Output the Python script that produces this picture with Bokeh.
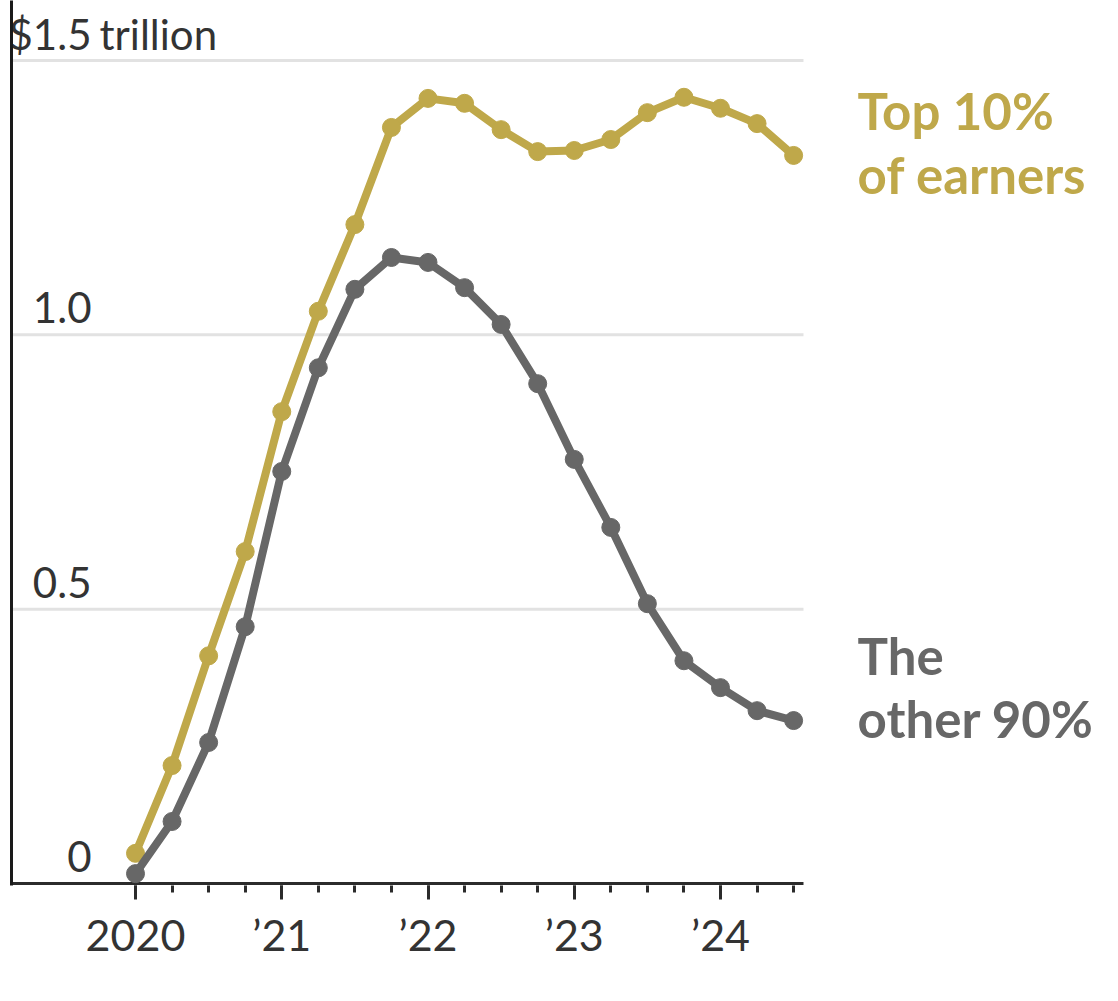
from bokeh.plotting import figure
from bokeh.models import FixedTicker, Range1d, Label, ColumnDataSource
from bokeh.core.properties import value
from bokeh.embed import file_html
from bokeh.resources import INLINE

# ---- data ----
quarters = [2020.0, 2020.25, 2020.5, 2020.75, 2021.0, 2021.25, 2021.5, 2021.75,
            2022.0, 2022.25, 2022.5, 2022.75, 2023.0, 2023.25, 2023.5, 2023.75,
            2024.0, 2024.25, 2024.5]
top10 = [0.055, 0.215, 0.415, 0.605, 0.860, 1.043, 1.201, 1.378, 1.431, 1.422,
         1.374, 1.334, 1.336, 1.356, 1.405, 1.433, 1.413, 1.385, 1.327]
other90 = [0.018, 0.113, 0.257, 0.468, 0.751, 0.940, 1.083, 1.141, 1.132, 1.086,
           1.019, 0.911, 0.773, 0.649, 0.510, 0.406, 0.357, 0.315, 0.297]
year_ticks = [2020, 2021, 2022, 2023, 2024]
year_labels = ["2020", "\u201921", "\u201922", "\u201923", "\u201924"]
y_ticks = [1.5, 1.0, 0.5, 0.0]
y_labels = ["$1.5", "1.0", "0.5", "0"]

GOLD = "#BFA84A"
GRAY = "#676767"
DARK = "#2b2b2b"
FONT = "Lato"

X0, X1 = 2019.1521, 2026.612
AXIS_END = 2024.5675

p = figure(width=1102, height=985, output_backend="svg", toolbar_location=None,
           x_range=Range1d(X0, X1), y_range=Range1d(-0.00365, 1.6094),
           min_border_left=11, min_border_top=0,
           min_border_right=0, min_border_bottom=100)
p.outline_line_color = None
p.background_fill_color = "white"
p.border_fill_color = "white"
p.xgrid.grid_line_color = None
p.ygrid.grid_line_color = None

# left border line (y axis without ticks)
yax = p.yaxis[0]
yax.ticker = FixedTicker(ticks=[])
yax.axis_line_color = "#1a1a1a"
yax.axis_line_width = 3
yax.major_tick_out = 0
yax.minor_tick_out = 0
yax.major_label_text_font_size = "0px"
yax.major_label_standoff = 0

# gridlines and baseline (ending where the axis ends)
grid_y = y_ticks[:-1]
p.segment(x0=[X0] * len(grid_y), y0=grid_y, x1=[AXIS_END] * len(grid_y), y1=grid_y,
          line_color="#e2e2e2", line_width=3)
p.segment(x0=[X0], y0=[0.0], x1=[AXIS_END], y1=[0.0], line_color=DARK, line_width=3)

# x axis
ax = p.xaxis[0]
ax.ticker = FixedTicker(ticks=year_ticks, minor_ticks=quarters)
ax.major_label_overrides = {t: l for t, l in zip(year_ticks, year_labels)}
ax.axis_line_color = None
ax.major_tick_line_color = DARK
ax.major_tick_line_width = 3
ax.major_tick_out = 14
ax.major_tick_in = 0
ax.minor_tick_line_color = DARK
ax.minor_tick_line_width = 3
ax.minor_tick_out = 7
ax.minor_tick_in = 0
ax.major_label_text_font = FONT
ax.major_label_text_font_size = "43px"
ax.major_label_text_color = "#333333"
ax.major_label_standoff = 9

# y labels inside plot
ysrc = ColumnDataSource(dict(x=[X0] * len(y_ticks), y=y_ticks, t=y_labels))
p.text(x="x", y="y", text="t", source=ysrc, x_offset=80, y_offset=-27,
       text_align="right", text_baseline="alphabetic", text_font=value(FONT),
       text_font_size="42px", text_color="#333333")
p.add_layout(Label(x=X0, y=1.5, x_offset=88, y_offset=27, text="trillion",
                   text_font=FONT, text_font_size="42px", text_color="#333333",
                   text_baseline="alphabetic", text_align="left"))

# lines
p.line(quarters, top10, line_color=GOLD, line_width=8)
p.scatter(quarters, top10, size=18, fill_color=GOLD, line_color=GOLD)
p.line(quarters, other90, line_color=GRAY, line_width=8)
p.scatter(quarters, other90, size=18, fill_color=GRAY, line_color=GRAY)

# series labels
lab_kw = dict(text_font=FONT, text_font_size="51px", text_font_style="bold",
              text_baseline="alphabetic", text_align="left",
              x=quarters[-1], x_offset=64, y_offset=21)
p.add_layout(Label(y=1.3706, text="Top 10%", text_color=GOLD, **lab_kw))
p.add_layout(Label(y=1.2539, text="of earners", text_color=GOLD, **lab_kw))
p.add_layout(Label(y=0.3773, text="The", text_color=GRAY, **lab_kw))
p.add_layout(Label(y=0.2625, text="other 90%", text_color=GRAY, **lab_kw))

open("out.html", "w").write(file_html(p, INLINE))
